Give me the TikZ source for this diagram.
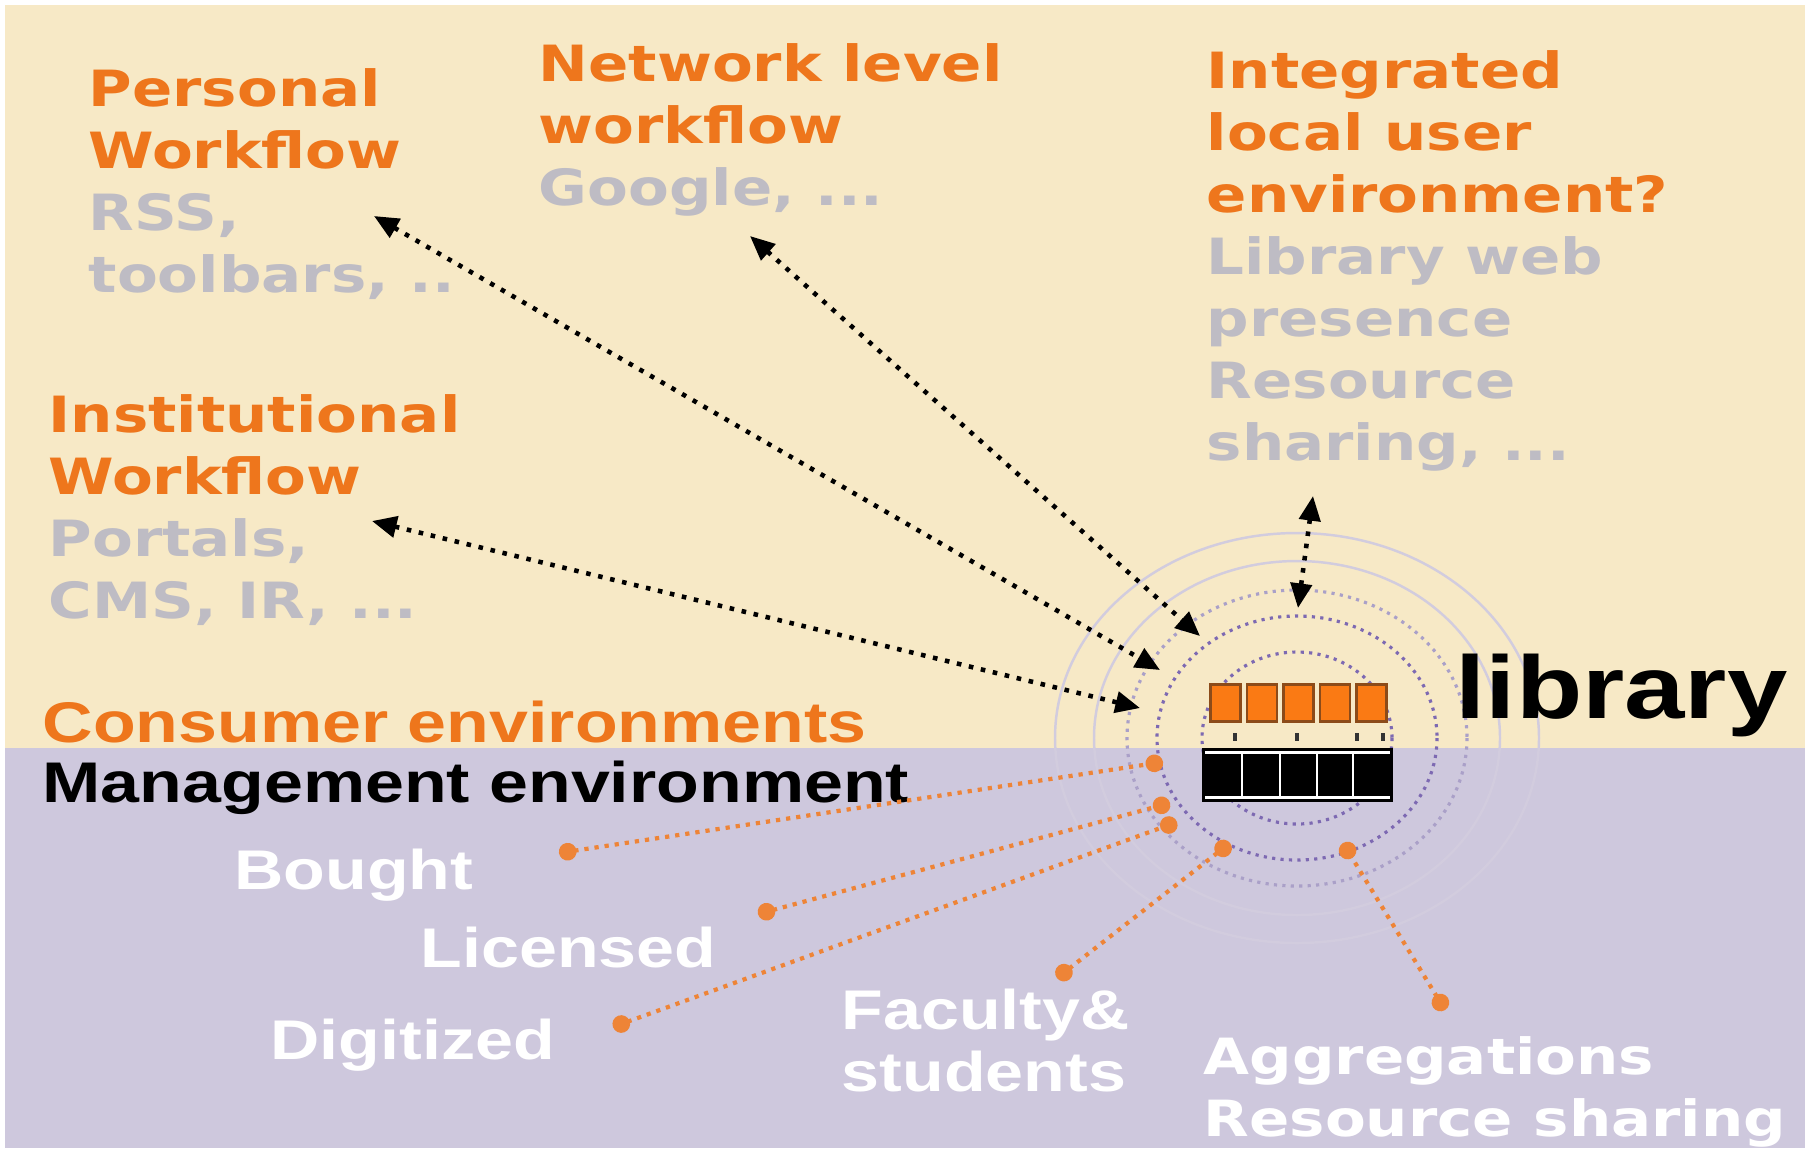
\documentclass[tikz,border=0pt]{standalone}
\usepackage{fontspec}
\usetikzlibrary{arrows.meta,positioning}
\newfontfamily\verdfont[FakeStretch=1.19]{DejaVu Sans}
\newfontfamily\arialfont[FakeStretch=1.22]{Liberation Sans}
\definecolor{cream}{RGB}{247,233,198}
\definecolor{lavender}{RGB}{206,200,221}
\definecolor{titleorange}{RGB}{238,118,28}
\definecolor{examplegrey}{RGB}{190,188,196}
\definecolor{boxorange}{RGB}{250,122,20}
\definecolor{boxbrown}{RGB}{140,75,25}
\definecolor{ringpurple}{RGB}{125,105,178}
\definecolor{ringpale}{RGB}{170,160,200}
\definecolor{ringfaint}{RGB}{210,204,222}
\definecolor{linkorange}{RGB}{238,132,55}
\tikzset{
	wf/.style={anchor=north west, inner sep=0pt, align=left, text=titleorange,
		font=\verdfont\bfseries\fontsize{14.2}{17.6}\selectfont},
	env/.style={anchor=base west, inner sep=0pt,
		font=\arialfont\bfseries\fontsize{16.3}{19}\selectfont},
	res/.style={anchor=base west, inner sep=0pt, text=white,
		font=\arialfont\bfseries\fontsize{15.9}{17.6}\selectfont},
	userlink/.style={black, line width=1.3pt, dash pattern=on 1.3pt off 2.2pt,
		{Triangle[length=7pt,width=6pt]}-{Triangle[length=7pt,width=6pt]}},
	colllink/.style={linkorange, line width=1.2pt, dash pattern=on 1.2pt off 1.7pt,
		{Circle[length=5pt]}-{Circle[length=5pt]}},
	ring/.style={ringpurple, line width=0.9pt, dash pattern=on 0.9pt off 1.5pt},
	orangecell/.style={draw=boxbrown, fill=boxorange, line width=0.8pt,
		minimum width=0.3cm, minimum height=0.37cm, inner sep=0pt}
}
\begin{document}
\begin{tikzpicture}[x=0.01cm,y=-0.01cm]
\useasboundingbox (0,0) rectangle (1815,1153);
\def\cellstep{36.5}

% consumer / management backgrounds
\fill[cream] (5,5) rectangle (1805,748);
\fill[lavender] (5,748) rectangle (1805,1148);

\coordinate (lib) at (1297,738);

% rings round the library
\foreach \rx/\ry in {242/205,203/177}
	\draw[ringfaint, line width=0.7pt] (lib) ellipse [x radius=\rx, y radius=\ry];
\draw[ring, ringpale] (lib) ellipse [x radius=170, y radius=148];
\foreach \rx/\ry in {140/122,95/86}
	\draw[ring] (lib) ellipse [x radius=\rx, y radius=\ry];

% texts
\node[wf] (personal) at (88,68) {Personal\\Workflow\\\textcolor{examplegrey}{RSS,}\\\textcolor{examplegrey}{toolbars, ..}};
\node[wf] (network) at (538,43) {Network level\\workflow\\\textcolor{examplegrey}{Google, ...}};
\node[wf] (integrated) at (1206,50) {Integrated\\local user\\environment?\\\textcolor{examplegrey}{Library web}\\\textcolor{examplegrey}{presence}\\\textcolor{examplegrey}{Resource}\\\textcolor{examplegrey}{sharing, ...}};
\node[wf] (institutional) at (48,394) {Institutional\\Workflow\\\textcolor{examplegrey}{Portals,}\\\textcolor{examplegrey}{CMS, IR, ...}};

\node[env, text=titleorange] (consumer) at (42,742) {Consumer environments};
\node[env, text=black] (management) at (42,802) {Management environment};
\node[anchor=base west, inner sep=0pt, font=\arialfont\bfseries\fontsize{25.3}{30}\selectfont] (library) at (1455,718) {library};

\node[res] (bought) at (234,889) {Bought};
\node[res] (licensed) at (420,967) {Licensed};
\node[res] (digitized) at (270,1059) {Digitized};
\node[res, anchor=north west, align=left] (faculty) at (841,988) {Faculty\&\\students};
\node[wf, text=white] (aggregations) at (1203,1036) {Aggregations\\Resource sharing};

% ends of the links
\coordinate (pers-end) at (374,216);
\coordinate (net-end) at (750,236);
\coordinate (inst-end) at (372,521);
\coordinate (integ-end) at (1313,496);
\coordinate (pers-lib) at (1160,670);
\coordinate (net-lib) at (1200,636);
\coordinate (inst-lib) at (1140,708);
\coordinate (integ-lib) at (1298,608);

\coordinate (bought-end) at (559,853);
\coordinate (lic-end) at (758,914);
\coordinate (dig-end) at (613,1027);
\coordinate (fac-end) at (1057,978);
\coordinate (agg-end) at (1445,1010);
\coordinate (bought-lib) at (1163,762);
\coordinate (lic-lib) at (1170,803);
\coordinate (dig-lib) at (1177,822);
\coordinate (fac-lib) at (1230,843);
\coordinate (agg-lib) at (1343,843);

\draw[userlink] (pers-end) -- (pers-lib);
\draw[userlink] (net-end) -- (net-lib);
\draw[userlink] (inst-end) -- (inst-lib);
\draw[userlink] (integ-end) -- (integ-lib);

\draw[colllink] (bought-end) -- (bought-lib);
\draw[colllink] (lic-end) -- (lic-lib);
\draw[colllink] (dig-end) -- (dig-lib);
\draw[colllink] (fac-end) -- (fac-lib);
\draw[colllink] (agg-end) -- (agg-lib);

% library: orange cells over the black bar
\foreach \i in {1,...,5}
{
	\pgfmathsetmacro\cx{1189+\i*\cellstep}
	\node[orangecell] (cell\i) at (\cx,703) {};
}
\node[fill=black, minimum width=1.91cm, minimum height=0.54cm, inner sep=0pt] (bar) at (1297.5,775) {};
\draw[white, line width=0.75pt] ([xshift=0.04cm,yshift=-0.05cm]bar.north west) -- ([xshift=-0.04cm,yshift=-0.05cm]bar.north east);
\draw[white, line width=0.75pt] ([xshift=0.04cm,yshift=0.05cm]bar.south west) -- ([xshift=-0.04cm,yshift=0.05cm]bar.south east);
\foreach \x in {1242,1280,1317,1353}
	\draw[white, line width=0.75pt] (\x,753) -- (\x,797);
\foreach \x in {1235,1297,1357,1383}
	\draw[black!80, line width=1.2pt] (\x,733) -- (\x,741);

\end{tikzpicture}
\end{document}
